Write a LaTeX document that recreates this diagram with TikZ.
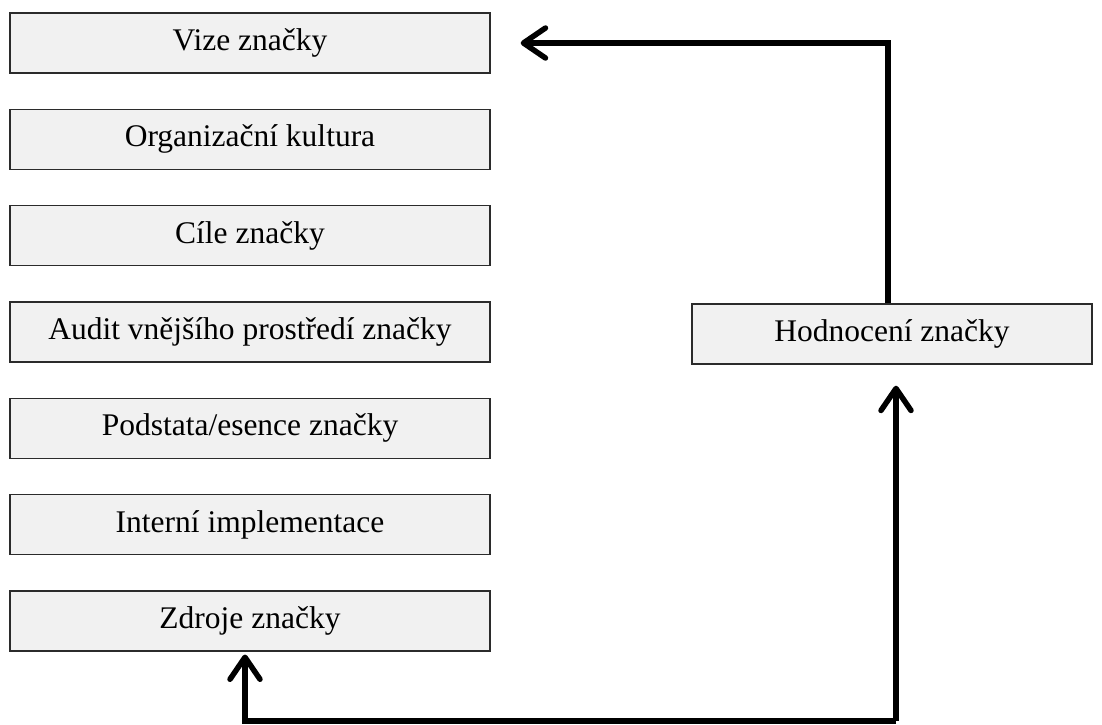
\documentclass[tikz,border=0pt]{standalone}
\usepackage{fontspec}
\setmainfont{Liberation Serif}
\usetikzlibrary{arrows.meta}

\definecolor{boxgray}{HTML}{F1F1F1}
\definecolor{edgegray}{HTML}{2B2B2B}

\tikzset{
    stepbox/.style={rectangle, draw=edgegray, line width=1.4pt, fill=boxgray,
        minimum width=480pt, minimum height=60pt, inner sep=0pt,
        font=\fontsize{31.5}{36}\selectfont},
    flow/.style={line width=5.5pt,
        -{Straight Barb[round, length=22pt, width=30pt]}},
}

\begin{document}
\begin{tikzpicture}[node distance=96.3pt]
    \useasboundingbox (0,0) rectangle (1102pt,-724pt);

    \node (vize) [stepbox] at (250pt,-43pt) {Vize značky};
    \node (kultura) [stepbox, below of=vize] {Organizační kultura};
    \node (cile) [stepbox, below of=kultura] {Cíle značky};
    \node (audit) [stepbox, below of=cile] {Audit vnějšího prostředí značky};
    \node (podstata) [stepbox, below of=audit] {Podstata/esence značky};
    \node (interni) [stepbox, below of=podstata] {Interní implementace};
    \node (zdroje) [stepbox, below of=interni] {Zdroje značky};

    \node (hodnoceni) [stepbox, minimum width=400pt] at (892pt,-334pt) {Hodnocení značky};

    \coordinate (base) at (896pt,-721pt);

    % zpetna vazba
    \draw[flow] ([xshift=-4pt]hodnoceni.north) |- ([xshift=30pt]vize.east);
    \draw[flow] (base) -- ([xshift=4pt,yshift=-21pt]hodnoceni.south);
    \draw[flow] (base) -| ([xshift=-5pt,yshift=-3pt]zdroje.south);
\end{tikzpicture}
\end{document}
